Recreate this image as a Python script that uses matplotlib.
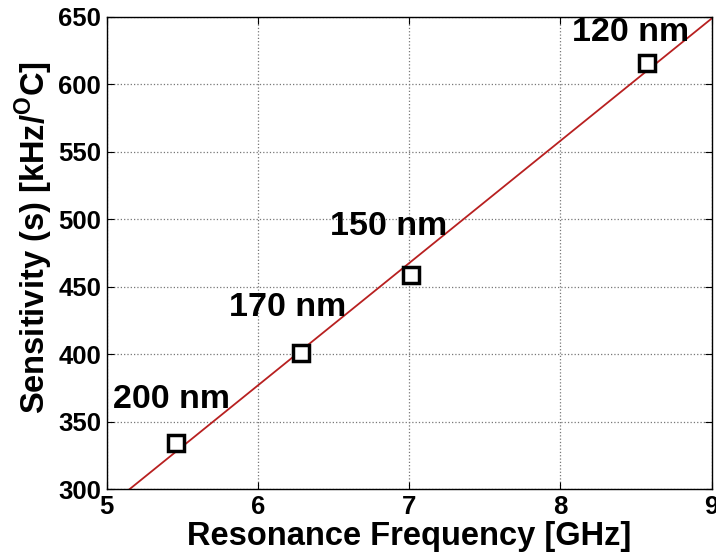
import matplotlib.pyplot as plt
import numpy as np

# resonance frequency (GHz) vs temperature sensitivity for each gap width
freq = [5.456, 6.283, 7.015, 8.572]
sens = [334.1, 400.6, 458.6, 615.6]
gaps = ['200 nm', '170 nm', '150 nm', '120 nm']

plt.rcParams['font.family'] = 'Liberation Sans'
plt.rcParams['font.weight'] = 'bold'
plt.rcParams['mathtext.fontset'] = 'custom'
plt.rcParams['mathtext.rm'] = 'Liberation Sans:bold'
plt.rcParams['mathtext.bf'] = 'Liberation Sans:bold'

fig = plt.figure(figsize=(7.16, 5.59), dpi=100)
ax = fig.add_axes([0.149, 0.125, 0.845, 0.845])

# linear fit through the measured points
p = np.polyfit(freq, sens, 1)
xf = np.array([5, 9])
ax.plot(xf, np.polyval(p, xf), color='#b82020', lw=1.3, zorder=2)

ax.plot(freq, sens, 's', ms=11, mfc='white', mec='black', mew=2.5, zorder=3)

# gap labels sit above-left of each marker (offsets in pixels)
offsets = [(-4, 44), (-13, 46), (-23, 49), (-16, 31)]
for x, y, t, off in zip(freq, sens, gaps, offsets):
    ax.annotate(t, (x, y), xytext=off, textcoords='offset pixels',
                fontsize=24.5, fontweight='bold', ha='center', va='center')

ax.set_xlim(5, 9)
ax.set_ylim(300, 650)
ax.set_xticks([5, 6, 7, 8, 9])
ax.set_yticks(range(300, 651, 50))
ax.grid(True, linestyle=':', color='#777777', lw=0.9)
ax.tick_params(direction='in', top=True, right=True, labelsize=18.5, length=5, pad=4)
for s in ax.spines.values():
    s.set_linewidth(1.0)

ax.set_xlabel('Resonance Frequency [GHz]', fontsize=23.5, fontweight='bold', labelpad=2)
ax.set_ylabel(r'Sensitivity (s) [kHz/$^{\mathbf{O}}$C]', fontsize=23.5, fontweight='bold', labelpad=2)
ax.yaxis.label.set_y(0.532)

fig.savefig('out.png', dpi=100)
